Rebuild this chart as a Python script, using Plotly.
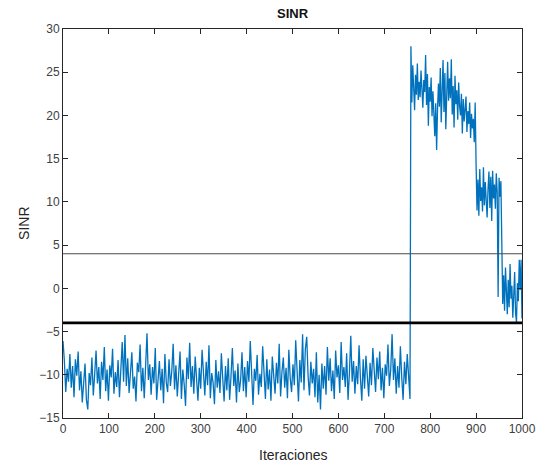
import plotly.graph_objects as go

# ---- data ----
# noise phase, iterations 0..756 step 3
noise_iter = list(range(0, 757, 3))
noise_sinr = [
    -6.1, -8.4, -12.0, -9.3, -10.8, -7.6, -11.5, -9.0, -12.6, -8.2, -10.1, -7.3, -11.8, -9.6, -13.2, -10.4, -8.7, -12.9, -14.0, -9.8,
    -11.2, -8.0, -12.4, -10.0, -7.2, -11.0, -9.1, -12.8, -8.5, -10.6, -6.8, -11.9, -9.4, -13.0, -8.9, -10.3, -7.0, -12.2, -9.7, -11.4,
    -8.3, -12.6, -9.5, -6.2, -10.8, -5.4, -11.3, -8.1, -12.1, -9.9, -7.4, -11.6, -10.2, -13.1, -8.6, -9.7, -6.5, -11.9, -9.2, -12.7,
    -7.8, -5.2, -10.6, -8.8, -12.3, -9.1, -11.0, -6.9, -12.9, -10.0, -8.4, -11.8, -9.3, -13.3, -7.6, -10.9, -12.0, -8.2, -11.3, -9.6,
    -6.4, -11.7, -8.9, -12.5, -10.1, -7.3, -12.8, -9.4, -11.1, -13.6, -8.0, -10.5, -6.3, -11.4, -9.0, -12.2, -7.9, -10.7, -13.0, -9.2,
    -11.6, -7.1, -10.3, -12.4, -8.5, -11.2, -6.6, -12.7, -9.8, -10.9, -13.4, -8.3, -11.5, -9.6, -12.1, -7.5, -10.4, -13.1, -9.0, -11.8,
    -8.1, -12.9, -10.2, -6.9, -11.3, -9.5, -13.2, -8.7, -12.0, -10.6, -7.4, -11.9, -9.1, -12.6, -8.4, -10.8, -6.1, -11.1, -13.5, -9.3,
    -10.7, -7.7, -12.3, -9.9, -11.4, -6.7, -10.1, -12.8, -8.2, -11.7, -9.4, -13.0, -7.9, -10.5, -12.2, -8.6, -11.0, -6.4, -12.5, -9.7,
    -8.0, -11.5, -9.2, -12.7, -7.1, -10.4, -12.0, -8.8, -11.2, -6.0, -9.6, -13.1, -8.3, -10.9, -5.3, -11.8, -7.0, -5.6, -10.2, -12.4,
    -8.5, -11.0, -9.3, -12.6, -7.4, -13.2, -10.0, -14.0, -8.7, -11.6, -9.0, -12.3, -6.8, -10.7, -8.1, -11.9, -9.5, -12.8, -7.2, -10.3,
    -8.9, -12.1, -6.2, -10.6, -9.1, -11.4, -7.5, -12.9, -9.8, -5.5, -10.8, -8.4, -12.2, -9.0, -11.1, -6.6, -10.4, -13.0, -8.2, -11.6,
    -7.8, -10.9, -12.5, -8.6, -11.2, -6.9, -9.7, -12.0, -8.0, -10.5, -7.3, -11.8, -9.2, -12.7, -8.8, -10.1, -6.5, -11.3, -9.4, -5.3,
    -10.6, -8.1, -12.2, -9.0, -11.5, -6.7, -10.3, -12.9, -8.5, -11.1, -7.6, -10.8, -12.8,
]

# converged phase, iterations 758..1000 step 2
high_iter = list(range(758, 1001, 2))
high_sinr = [
    28.0, 21.5, 25.8, 23.0, 20.6, 24.7, 22.4, 26.0, 21.8, 23.9, 22.1, 25.2, 23.5, 20.9, 24.1, 22.7, 27.0, 21.2, 24.8, 18.8, 23.3,
    21.6, 24.4, 19.9, 22.8, 20.3, 17.6, 21.4, 16.0, 20.8, 23.7, 21.0, 25.5, 19.2, 22.6, 26.4, 20.4, 24.9, 18.4, 23.1, 26.2, 21.7,
    24.3, 22.0, 26.5, 20.1, 23.4, 18.6, 24.6, 21.3, 22.9, 19.5, 23.8, 21.1, 20.0, 22.5, 17.9, 21.9, 19.3, 20.7, 22.2, 18.1,
    20.5, 19.0, 21.5, 17.4, 20.2, 18.5, 19.6, 16.9, 21.5,
    14.2, 9.0, 12.6, 8.4, 13.8, 10.1, 11.7, 8.9, 14.0, 9.6, 12.3, 10.8, 8.2, 11.5, 13.5, 9.3, 12.9, 7.8, 13.6, 10.4, 12.0, 9.2,
    13.3, 11.1,
    -1.0, 12.8, 10.6, 12.4,
    3.1, -1.8, 1.5, -2.6, 2.4, -0.5, -3.0, 1.0, -2.2, 2.8, -1.2, 0.3, -3.4, -0.8, 1.9, -2.9, -3.9, 0.6, -1.5, 3.3, -0.2, 3.3, -3.5,
]

thr_upper = 4
thr_lower = -4
x_ticks = list(range(0, 1001, 100))
y_ticks = list(range(-15, 31, 5))

iters = noise_iter + high_iter
sinr = noise_sinr + high_sinr

fig = go.Figure()
fig.add_trace(go.Scatter(x=iters, y=sinr, mode="lines",
                         line=dict(color="#0072BD", width=1.3), showlegend=False))
fig.add_trace(go.Scatter(x=[0, 1000], y=[thr_upper, thr_upper], mode="lines",
                         line=dict(color="#4a4a4a", width=1), showlegend=False))
fig.add_trace(go.Scatter(x=[0, 1000], y=[thr_lower, thr_lower], mode="lines",
                         line=dict(color="#000000", width=2.6), showlegend=False))

axis_common = dict(
    showgrid=False, zeroline=False, showline=True, linecolor="#262626", linewidth=1,
    mirror="allticks", ticks="inside", ticklen=5, tickcolor="#262626", tickwidth=1,
    tickfont=dict(family="Liberation Sans, Arial, sans-serif", size=12, color="#404040"),
)

M_L, M_R, M_T, M_B = 63, 21, 29, 47

fig.update_layout(
    width=548, height=465,
    margin=dict(l=M_L, r=M_R, t=M_T, b=M_B),
    paper_bgcolor="white", plot_bgcolor="white",
    xaxis=dict(range=[0, 1000], tickvals=x_ticks, **axis_common),
    yaxis=dict(range=[-15, 30], tickvals=y_ticks, **axis_common),
)

plot_h = 465 - M_T - M_B
plot_w = 548 - M_L - M_R
fig.add_annotation(text="<b>SINR</b>", x=0.5, xref="paper", y=1 + (M_T - 14) / plot_h, yref="paper",
                   showarrow=False, yanchor="middle",
                   font=dict(family="Liberation Sans, Arial", size=13, color="#111111"))
fig.add_annotation(text="Iteraciones", x=0.5, xref="paper", y=-(455 - (465 - M_B)) / plot_h, yref="paper",
                   showarrow=False, yanchor="middle",
                   font=dict(family="Liberation Sans, Arial", size=14, color="#262626"))
fig.add_annotation(text="SINR", x=-(M_L - 23) / plot_w, xref="paper", y=0.5, yref="paper", textangle=-90,
                   showarrow=False, xanchor="center",
                   font=dict(family="Liberation Sans, Arial", size=14, color="#262626"))

fig.write_html("out.html")
